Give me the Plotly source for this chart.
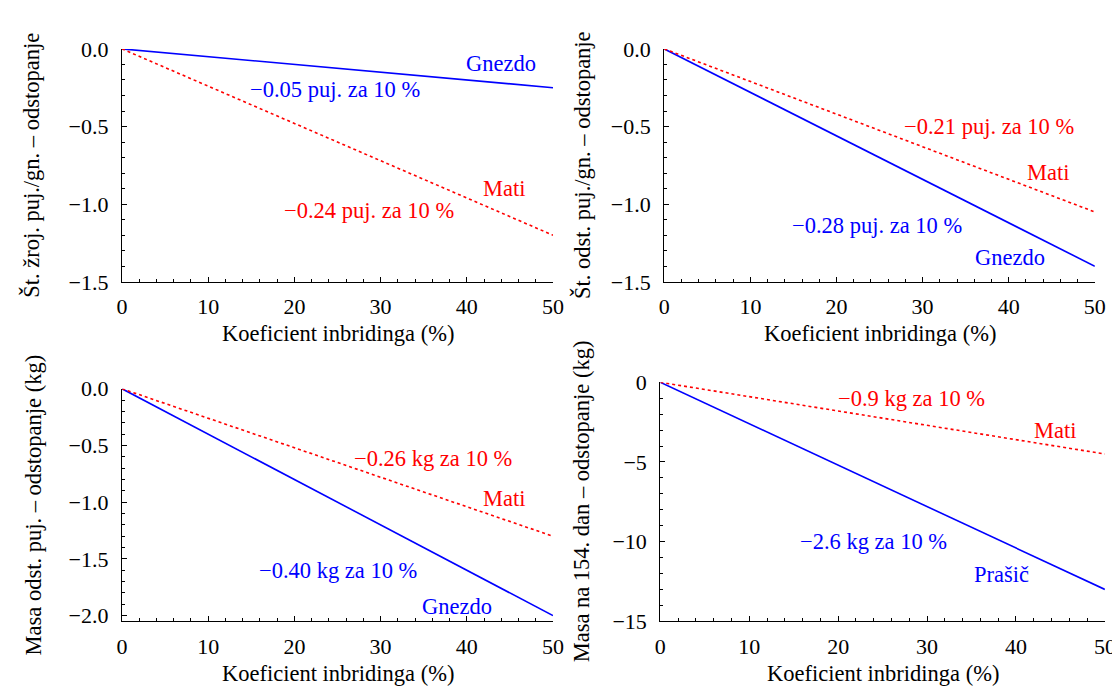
import plotly.graph_objects as go

# ---- data ----
inbreeding_pct = [0, 50]
x_tick_vals = [0, 10, 20, 30, 40, 50]

# panel 1: Št. žroj. puj./gn.
p1_gnezdo = [0.0, -0.25]
p1_mati = [0.0, -1.20]
# panel 2: Št. odst. puj./gn.
p2_gnezdo = [0.0, -1.40]
p2_mati = [0.0, -1.05]
# panel 3: Masa odst. puj.
p3_gnezdo = [0.0, -2.00]
p3_mati = [0.0, -1.30]
# panel 4: Masa na 154. dan
p4_prasic = [0.0, -13.0]
p4_mati = [0.0, -4.5]

y_titles = [
    "Št. žroj. puj./gn. – odstopanje",
    "Št. odst. puj./gn. – odstopanje",
    "Masa odst. puj. – odstopanje (kg)",
    "Masa na 154. dan – odstopanje (kg)",
]
x_title = "Koeficient inbridinga (%)"

BLUE = "#0000FF"
RED = "#FF0000"
FONT = "Liberation Serif"
FS = 22.5
TFS = 22

W, H = 1120, 687

# panel geometry in pixels: (x_left, x_right, y_top, y_bottom)
panels = [
    (109.7, 547.3, 30.0, 271.7),
    (660.3, 1097.5, 30.0, 271.7),
    (109.7, 547.3, 382.7, 624.0),
    (656.3, 1107.7, 376.0, 624.0),
]
ytitle_offset = [92, 83, 90, 80]
y_ranges = [[-1.5, 0.0], [-1.5, 0.0], [-2.05, 0.0], [-15.0, 0.0]]
y_dticks = [0.5, 0.5, 0.5, 5]
y_minor = [0.1, 0.1, 0.1, 1]
y_fmt = [".1f", ".1f", ".1f", "d"]

series = [
    [(p1_gnezdo, BLUE, "solid"), (p1_mati, RED, "dot")],
    [(p2_gnezdo, BLUE, "solid"), (p2_mati, RED, "dot")],
    [(p3_gnezdo, BLUE, "solid"), (p3_mati, RED, "dot")],
    [(p4_prasic, BLUE, "solid"), (p4_mati, RED, "dot")],
]

labels = [
    [("Gnezdo", 44.0, -0.093, BLUE), ("−0.05 puj. za 10 %", 24.7, -0.26, BLUE),
     ("Mati", 44.4, -0.90, RED), ("−0.24 puj. za 10 %", 28.7, -1.043, RED)],
    [("−0.21 puj. za 10 %", 37.7, -0.497, RED), ("Mati", 44.6, -0.795, RED),
     ("−0.28 puj. za 10 %", 24.7, -1.136, BLUE), ("Gnezdo", 40.1, -1.341, BLUE)],
    [("−0.26 kg za 10 %", 36.1, -0.615, RED), ("Mati", 44.4, -0.963, RED),
     ("−0.40 kg za 10 %", 25.1, -1.60, BLUE), ("Gnezdo", 38.9, -1.917, BLUE)],
    [("−0.9 kg za 10 %", 28.2, -1.03, RED), ("Mati", 44.4, -3.02, RED),
     ("−2.6 kg za 10 %", 24.0, -9.98, BLUE), ("Prašič", 38.4, -12.04, BLUE)],
]

fig = go.Figure()
annotations = []
layout = dict(
    width=W, height=H,
    margin=dict(l=0, r=0, t=0, b=0),
    paper_bgcolor="white", plot_bgcolor="white",
    showlegend=False,
    font=dict(family=FONT, size=FS, color="black"),
)

for i, (xl, xr, yt, yb) in enumerate(panels):
    n = "" if i == 0 else str(i + 1)
    xa, ya = "x" + n, "y" + n
    for vals, col, dash in series[i]:
        fig.add_trace(go.Scatter(
            x=inbreeding_pct, y=vals, mode="lines", xaxis=xa, yaxis=ya,
            line=dict(color=col, width=1.6, dash=dash), hoverinfo="skip",
            cliponaxis=False,
        ))
    common = dict(
        showline=True, linecolor="black", linewidth=1.2,
        ticks="inside", ticklen=5, tickwidth=1, tickcolor="black",
        showgrid=False, zeroline=False,
        tickfont=dict(family=FONT, size=TFS, color="black"),
    )
    layout["xaxis" + n] = dict(
        domain=[xl / W, xr / W], anchor=ya, range=[0, 50],
        tickvals=x_tick_vals, ticklabelstandoff=5,
        minor=dict(dtick=2, ticks="inside", ticklen=3, tickcolor="black", showgrid=False),
        **common,
    )
    layout["yaxis" + n] = dict(
        domain=[1 - yb / H, 1 - yt / H], anchor=xa, range=y_ranges[i],
        dtick=y_dticks[i], tick0=0, tickformat=y_fmt[i], ticklabelstandoff=8,
        minor=dict(dtick=y_minor[i], ticks="inside", ticklen=3, tickcolor="black", showgrid=False),
        **common,
    )
    # axis titles
    annotations.append(dict(
        text=x_title, xref="paper", yref="paper",
        x=(xl + xr) / 2 / W, y=1 - (yb + 54) / H,
        showarrow=False, xanchor="center", yanchor="middle",
        font=dict(family=FONT, size=FS, color="black"),
    ))
    ycenter = (yt + yb) / 2
    annotations.append(dict(
        text=y_titles[i], xref="paper", yref="paper",
        x=(xl - ytitle_offset[i]) / W, y=1 - ycenter / H, textangle=-90,
        showarrow=False, xanchor="center", yanchor="middle",
        font=dict(family=FONT, size=FS, color="black"),
    ))
    for txt, lx, ly, col in labels[i]:
        annotations.append(dict(
            text=txt, x=lx, y=ly, xref=xa, yref=ya, showarrow=False,
            xanchor="center", yanchor="middle",
            font=dict(family=FONT, size=FS, color=col),
        ))

layout["annotations"] = annotations
fig.update_layout(**layout)
fig.write_html("out.html")
